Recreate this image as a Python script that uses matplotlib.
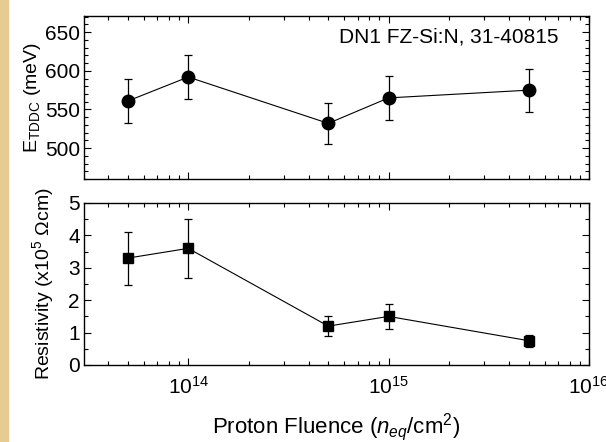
import matplotlib
matplotlib.use('Agg')
import matplotlib.pyplot as plt
from matplotlib.ticker import MultipleLocator, LogLocator, NullFormatter
from matplotlib.patches import Rectangle

plt.rcParams['font.family'] = ['Liberation Sans', 'DejaVu Sans']
plt.rcParams['mathtext.fontset'] = 'custom'
plt.rcParams['mathtext.rm'] = 'Liberation Sans'
plt.rcParams['mathtext.it'] = 'Liberation Sans:italic'

# Dados
fluence = [5e13, 1e14, 5e14, 1e15, 5e15]
e_tddc = [561, 592, 532, 565, 575]
e_err = [28, 29, 27, 28, 28]
resist = [3.3, 3.6, 1.2, 1.5, 0.75]
resist_err = [0.82, 0.9, 0.3, 0.38, 0.18]

fig = plt.figure(figsize=(6.06, 4.42), dpi=100)
fig.patch.set_facecolor('white')
# faixa bege à esquerda
fig.patches.append(Rectangle((0, 0), 8 / 606, 1, transform=fig.transFigure,
                             color='#E6CC92', zorder=0))

W, H = 606, 442
ax1 = fig.add_axes([84 / W, 1 - 179 / H, 505 / W, 163 / H])
ax2 = fig.add_axes([84 / W, 1 - 365 / H, 505 / W, 162 / H])

for ax in (ax1, ax2):
    ax.set_xscale('log')
    ax.set_xlim(10 ** 13.48, 1e16)
    ax.xaxis.set_major_locator(LogLocator(base=10, numticks=10))
    ax.xaxis.set_minor_locator(LogLocator(base=10, subs=range(2, 10), numticks=20))
    ax.xaxis.set_minor_formatter(NullFormatter())
    ax.tick_params(which='both', direction='in', top=True, right=True,
                   labelsize=15, width=0.8, pad=3)
    ax.tick_params(axis='x', pad=8)
    ax.tick_params(which='major', length=5)
    ax.tick_params(which='minor', length=3)
    for s in ax.spines.values():
        s.set_linewidth(1.0)

ax1.errorbar(fluence, e_tddc, yerr=e_err, fmt='-o', color='black', ms=9,
             lw=0.8, elinewidth=0.9, capsize=3, capthick=0.9)
ax1.set_ylim(460, 671)
ax1.yaxis.set_major_locator(MultipleLocator(50))
ax1.yaxis.set_minor_locator(MultipleLocator(10))
ax1.tick_params(axis='x', labelbottom=False)
ax1.set_ylabel(r'E$_{\mathrm{TDDC}}$ (meV)', fontsize=14, labelpad=1)
ax1.text(0.94, 0.87, 'DN1 FZ-Si:N, 31-40815', transform=ax1.transAxes,
         ha='right', va='center', fontsize=15)

ax2.errorbar(fluence, resist, yerr=resist_err, fmt='-s', color='black', ms=7,
             lw=0.8, elinewidth=0.9, capsize=3, capthick=0.9)
ax2.set_ylim(0, 5)
ax2.yaxis.set_major_locator(MultipleLocator(1))
ax2.yaxis.set_minor_locator(MultipleLocator(0.5))
ax2.set_ylabel(r'Resistivity (x10$^5$ $\Omega$cm)', fontsize=14, labelpad=9)
ax2.set_xlabel(r'Proton Fluence ($n_{eq}$/cm$^2$)', fontsize=16, labelpad=9)

plt.savefig('out.png', dpi=100)
